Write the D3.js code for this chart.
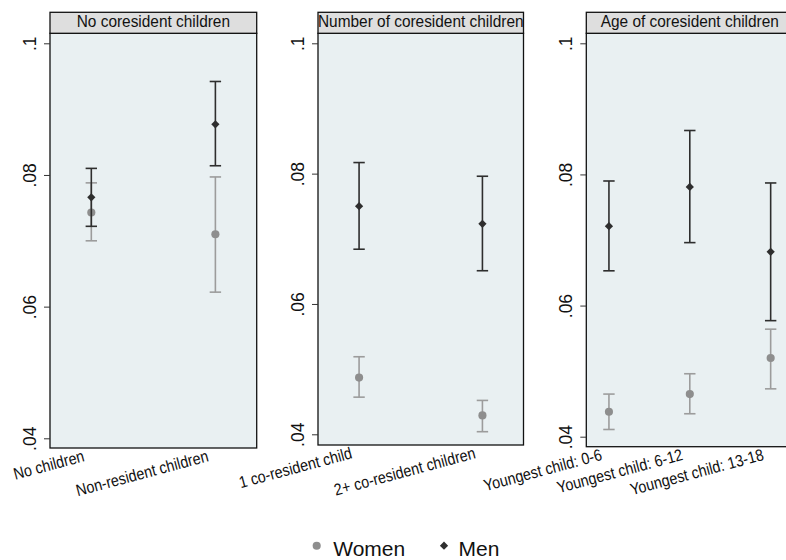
<!doctype html>
<html>
<head>
<meta charset="utf-8">
<script src="https://d3js.org/d3.v7.min.js"></script>
<style>
  body { margin: 0; background: #fff; }
  text { font-family: "Liberation Sans", Arial, sans-serif; }
</style>
</head>
<body>
<script>

// data
var panelTitles = ["No coresident children", "Number of coresident children", "Age of coresident children"];
var categories = [
    ["No children", "Non-resident children"],
    ["1 co-resident child", "2+ co-resident children"],
    ["Youngest child: 0-6", "Youngest child: 6-12", "Youngest child: 13-18"]
];
var womenMean = [[0.0743, 0.0710], [0.0487, 0.0429], [0.0438, 0.0465, 0.0520]];
var womenLow  = [[0.0700, 0.0622], [0.0457, 0.0404], [0.0411, 0.0435, 0.0473]];
var womenHigh = [[0.0788, 0.0797], [0.0519, 0.0452], [0.0465, 0.0496, 0.0564]];
var menMean   = [[0.0766, 0.0877], [0.0750, 0.0723], [0.0721, 0.0781, 0.0682]];
var menLow    = [[0.0722, 0.0814], [0.0684, 0.0651], [0.0653, 0.0696, 0.0577]];
var menHigh   = [[0.0810, 0.0942], [0.0817, 0.0796], [0.0790, 0.0867, 0.0787]];
var yTicks = [0.04, 0.06, 0.08, 0.1];
var legendLabels = ["Women", "Men"];

// layout
var W = 786, H = 560;
var panelLeft = [50, 318, 586.3],
    panelWidth = [206.7, 205.5, 207],
    panelBottom = [448, 445, 446.7],
    tickBottom = [438.3, 434.3, 436.7],
    xPad = [0.333, 0.333, 0.28];
var stripTop = 12.3, plotTop = 33.3, tickTop = 43.3;

var womenColor = "#8e8e8e", womenLine = "#9c9c9c",
    menColor = "#2e2e2e";

var svg = d3.select("body").append("svg")
    .attr("width", W)
    .attr("height", H);

svg.append("rect").attr("width", W).attr("height", H).attr("fill", "#fff");

var diamond = d3.symbol().type(d3.symbolSquare).size(34);
var circle = d3.symbol().type(d3.symbolCircle).size(52);
var fmt = function(d) { return d3.format(".2f")(d).replace(/^0/, "").replace(/0$/, ""); };

panelTitles.forEach(function(title, i) {
    var left = panelLeft[i], right = left + panelWidth[i];

    var x = d3.scalePoint().domain(categories[i]).range([left, right]).padding(xPad[i]);
    var y = d3.scaleLinear().domain([0.04, 0.1]).range([tickBottom[i], tickTop]);

    var g = svg.append("g");

    // plot region
    g.append("rect")
     .attr("x", left).attr("y", plotTop)
     .attr("width", panelWidth[i]).attr("height", panelBottom[i] - plotTop)
     .attr("fill", "#e9f0f2")
     .attr("stroke", "#111").attr("stroke-width", 1.3);

    // title strip
    g.append("clipPath").attr("id", "strip" + i)
     .append("rect")
     .attr("x", left).attr("y", stripTop)
     .attr("width", panelWidth[i]).attr("height", plotTop - stripTop);

    g.append("rect")
     .attr("x", left).attr("y", stripTop)
     .attr("width", panelWidth[i]).attr("height", plotTop - stripTop)
     .attr("fill", "#dedede")
     .attr("stroke", "#111").attr("stroke-width", 1.3);

    g.append("g")
     .attr("clip-path", "url(#strip" + i + ")")
     .append("text")
     .attr("transform", "translate(" + ((left + right) / 2) + ",27) scale(0.94,1)")
     .attr("text-anchor", "middle")
     .attr("font-size", "16.4px")
     .attr("fill", "#111")
     .text(title);

    // y axis
    var ax = g.append("g")
        .attr("transform", "translate(" + left + ",0)")
        .call(d3.axisLeft(y).tickValues(yTicks).tickSize(6).tickFormat(fmt));
    ax.select(".domain").remove();
    ax.selectAll(".tick line").attr("stroke", "#333");
    ax.selectAll(".tick text")
      .attr("x", 0).attr("y", -14).attr("dy", 0)
      .attr("transform", "rotate(-90)")
      .attr("text-anchor", "middle")
      .attr("font-size", "17.5px")
      .attr("font-family", "Liberation Sans, Arial, sans-serif")
      .attr("fill", "#111");

    // x labels
    g.selectAll(".xlab")
     .data(categories[i])
     .enter().append("text")
     .attr("class", "xlab")
     .attr("transform", function(d) {
         return "translate(" + (x(d) - 6) + "," + (panelBottom[i] + 13) + ") rotate(-15) scale(0.87,1)";
     })
     .attr("text-anchor", "end")
     .attr("font-size", "16.5px")
     .attr("fill", "#111")
     .text(function(d) { return d; });

    // error bars + markers
    var series = [
        {mean: womenMean[i], lo: womenLow[i], hi: womenHigh[i], line: womenLine, fill: womenColor, sym: circle, rot: 0},
        {mean: menMean[i], lo: menLow[i], hi: menHigh[i], line: menColor, fill: menColor, sym: diamond, rot: 45}
    ];

    series.forEach(function(s) {
        var rows = categories[i].map(function(c, j) {
            return {cat: c, mean: s.mean[j], lo: s.lo[j], hi: s.hi[j]};
        });
        var sg = g.append("g");

        sg.selectAll(".ci").data(rows).enter().append("line")
          .attr("x1", function(d) { return x(d.cat); })
          .attr("x2", function(d) { return x(d.cat); })
          .attr("y1", function(d) { return y(d.lo); })
          .attr("y2", function(d) { return y(d.hi); })
          .attr("stroke", s.line).attr("stroke-width", 1.6);

        ["lo", "hi"].forEach(function(k) {
            sg.selectAll(".cap" + k).data(rows).enter().append("line")
              .attr("x1", function(d) { return x(d.cat) - 5.7; })
              .attr("x2", function(d) { return x(d.cat) + 5.7; })
              .attr("y1", function(d) { return y(d[k]); })
              .attr("y2", function(d) { return y(d[k]); })
              .attr("stroke", s.line).attr("stroke-width", 1.6);
        });

        sg.selectAll(".pt").data(rows).enter().append("path")
          .attr("d", s.sym)
          .attr("transform", function(d) {
              return "translate(" + x(d.cat) + "," + y(d.mean) + ") rotate(" + s.rot + ")";
          })
          .attr("fill", s.fill);
    });
});

// legend
var legendX = [316.7, 444], legendY = 545.7;
var lg = svg.append("g");
lg.selectAll("path").data(legendLabels).enter().append("path")
  .attr("d", function(d, i) { return i === 0 ? circle() : diamond(); })
  .attr("transform", function(d, i) {
      return "translate(" + legendX[i] + "," + legendY + ") rotate(" + (i === 0 ? 0 : 45) + ")";
  })
  .attr("fill", function(d, i) { return i === 0 ? womenColor : menColor; });

lg.selectAll("text").data(legendLabels).enter().append("text")
  .attr("x", function(d, i) { return legendX[i] + (i === 0 ? 16.5 : 14.5); })
  .attr("y", 555.5)
  .attr("font-size", "21px")
  .attr("fill", "#111")
  .text(function(d) { return d; });

</script>
</body>
</html>
